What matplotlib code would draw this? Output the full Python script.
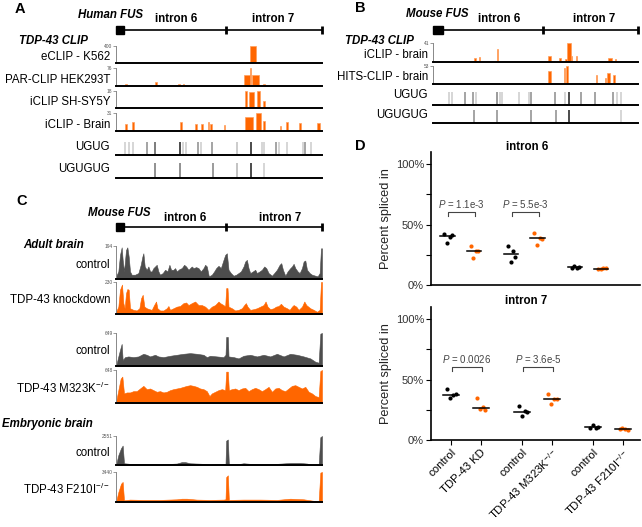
#!/usr/bin/env python3

import numpy as np
import matplotlib.pyplot as plt

W, H = 642, 527
ORANGE = '#ff6600'
GREY = '#4d4d4d'

plt.rcParams['font.family'] = ['Liberation Sans', 'DejaVu Sans']
plt.rcParams['mathtext.fontset'] = 'custom'
plt.rcParams['mathtext.rm'] = 'Liberation Sans'
plt.rcParams['mathtext.it'] = 'Liberation Sans:italic'

# ---------------- panel A: human FUS locus (arbitrary locus units)
A_LEN, A_EXON_END, A_SPLIT = 617, 24, 330

# CLIP peaks: (start, end, reads)
ECLIP_K562 = [(390, 400, 20), (400, 420, 400), (420, 437, 15)]
PARCLIP_HEK = [(27, 32, 8), (117, 122, 15), (187, 192, 10), (200, 204, 10),
               (384, 400, 46), (400, 404, 76), (407, 429, 46), (440, 445, 8)]
ICLIP_SHSY5Y = [(387, 393, 18), (398, 414, 17), (422, 430, 18), (440, 445, 7)]
ICLIP_BRAIN_H = [(27, 32, 12), (48, 54, 16), (192, 197, 15), (237, 242, 12),
                 (255, 260, 12), (275, 280, 15), (282, 287, 12), (322, 327, 10),
                 (387, 410, 24), (419, 434, 31), (440, 445, 17), (490, 495, 9),
                 (510, 515, 16), (549, 554, 13), (602, 610, 13)]
A_MAX = [400, 76, 18, 31]
A_LABELS = ['eCLIP - K562', 'PAR-CLIP HEK293T', 'iCLIP SH-SY5Y', 'iCLIP - Brain']

# motif sites: position and grey level
A_UGUG = [27, 40, 50, 92, 117, 192, 200, 210, 247, 254, 287, 362, 404, 437, 442,
          480, 487, 512, 560, 567, 584]
A_UGUG_SHADE = [.8, .8, .8, .55, .35, .1, .8, .8, .55, .8, .55, .75, .1, .8, .8,
                .55, .8, .8, .8, .55, .8]
A_UGUGUG = [117, 192, 292, 362, 404, 442]
A_UGUGUG_SHADE = [.45, .45, .5, .7, .1, .8]

# ---------------- panel B: mouse FUS locus
B_LEN, B_EXON_END, B_SPLIT = 615, 30, 330
ICLIP_BRAIN_M = [(123, 128, 9), (137, 142, 11), (191, 196, 27), (345, 353, 14),
                 (378, 383, 8), (395, 402, 6), (402, 413, 41), (413, 418, 14),
                 (428, 433, 12), (526, 538, 9), (545, 550, 6)]
HITS_BRAIN = [(345, 353, 37), (393, 397, 48), (400, 406, 53), (488, 493, 27),
              (515, 520, 19), (522, 530, 32), (540, 545, 26)]
B_MAX = [41, 53]
B_LABELS = ['iCLIP - brain', 'HITS-CLIP - brain']
B_UGUG = [47, 57, 97, 120, 128, 192, 200, 207, 257, 287, 295, 365, 395, 407, 445,
          485, 540, 553, 565]
B_UGUG_SHADE = [.8, .8, .55, .55, .8, .5, .8, .8, .8, .8, .55, .55, .8, .1, .55,
                .55, .55, .8, .8]
B_UGUGUG = [122, 192, 293, 368, 407, 565]
B_UGUGUG_SHADE = [.55, .55, .55, .55, .1, .8]

# ---------------- panel C: RNA-seq coverage, (position, % of track max)
KD_CTRL = [(0, 8), (7, 23), (12, 73), (17, 96), (20, 58), (24, 23), (30, 88), (34, 96),
           (38, 68), (42, 23), (47, 13), (57, 13), (67, 18), (74, 43), (79, 68), (82, 78),
           (86, 38), (92, 28), (97, 38), (102, 23), (107, 23), (112, 33), (117, 38),
           (122, 43), (127, 23), (132, 13), (140, 18), (147, 28), (154, 23), (160, 43),
           (165, 28), (172, 28), (177, 33), (182, 23), (190, 30), (197, 33), (204, 43),
           (210, 38), (217, 28), (222, 33), (227, 38), (232, 33), (240, 36), (247, 33),
           (254, 23), (262, 33), (267, 43), (272, 38), (278, 8), (287, 13), (294, 23),
           (300, 33), (307, 40), (314, 33), (322, 58), (327, 73), (332, 78), (337, 28),
           (344, 18), (352, 10), (360, 13), (367, 18), (374, 23), (382, 38), (387, 53),
           (392, 58), (397, 33), (402, 18), (410, 23), (417, 28), (422, 18), (430, 23),
           (437, 28), (444, 38), (450, 33), (457, 18), (467, 10), (474, 18), (482, 28),
           (490, 43), (495, 48), (500, 28), (507, 10), (514, 23), (522, 33), (527, 38),
           (532, 46), (537, 33), (544, 23), (550, 18), (557, 33), (562, 53), (567, 56),
           (572, 28), (580, 18), (587, 13), (597, 10), (604, 8), (610, 18), (614, 93),
           (617, 93)]
KD = [(0, 7), (7, 23), (12, 76), (18, 92), (22, 34), (26, 18), (30, 65), (34, 78), (38, 76),
      (42, 18), (52, 13), (62, 11), (70, 18), (75, 49), (80, 60), (85, 23), (92, 18),
      (100, 15), (107, 13), (114, 28), (120, 39), (124, 18), (132, 11), (142, 11),
      (152, 18), (157, 25), (162, 13), (172, 18), (182, 23), (192, 25), (202, 34),
      (210, 36), (217, 28), (227, 34), (237, 39), (247, 28), (257, 28), (267, 23),
      (277, 13), (287, 23), (297, 28), (307, 39), (312, 34), (322, 28), (327, 23),
      (330, 81), (334, 81), (337, 23), (347, 18), (357, 11), (367, 13), (377, 18),
      (384, 28), (389, 34), (394, 23), (402, 13), (412, 15), (422, 18), (432, 23),
      (442, 28), (448, 39), (454, 23), (462, 15), (472, 18), (479, 23), (487, 25),
      (494, 32), (502, 23), (512, 18), (520, 13), (527, 23), (532, 28), (540, 23),
      (547, 13), (557, 23), (564, 39), (570, 28), (582, 18), (592, 13), (602, 7),
      (610, 13), (614, 100), (617, 100)]
M323K_CTRL = [(0, 0), (7, 29), (12, 49), (17, 67), (20, 18), (27, 27), (37, 29), (52, 27),
              (67, 29), (82, 37), (92, 34), (102, 29), (117, 34), (127, 29), (142, 27),
              (162, 31), (182, 34), (202, 37), (222, 39), (242, 37), (262, 34), (272, 27),
              (282, 31), (302, 29), (322, 27), (328, 34), (330, 88), (335, 88), (337, 29),
              (352, 27), (367, 23), (382, 31), (402, 34), (422, 29), (442, 34), (462, 29),
              (482, 37), (502, 29), (522, 37), (542, 34), (562, 29), (582, 23), (597, 13),
              (607, 10), (612, 98), (617, 100)]
M323K = [(0, 3), (7, 39), (14, 74), (19, 80), (24, 29), (32, 32), (42, 32), (52, 36),
         (62, 36), (72, 44), (82, 52), (92, 42), (102, 44), (112, 39), (122, 34), (132, 36),
         (142, 32), (152, 34), (162, 39), (172, 42), (182, 44), (192, 46), (202, 49),
         (212, 52), (222, 54), (232, 52), (242, 49), (252, 44), (262, 42), (272, 36),
         (280, 21), (287, 29), (297, 34), (307, 39), (317, 42), (327, 39), (330, 95),
         (335, 95), (338, 39), (347, 42), (357, 44), (367, 39), (377, 44), (387, 46),
         (397, 36), (407, 42), (417, 46), (427, 42), (437, 36), (447, 42), (457, 49),
         (467, 34), (477, 44), (487, 46), (497, 39), (507, 36), (517, 44), (527, 52),
         (537, 54), (547, 49), (557, 44), (567, 49), (577, 34), (587, 29), (597, 21),
         (607, 18), (612, 97), (617, 100)]
EMB_CTRL = [(0, 0), (7, 34), (15, 58), (20, 67), (24, 6), (42, 4), (82, 4), (132, 2),
            (182, 5), (197, 10), (207, 10), (222, 6), (262, 4), (282, 1), (322, 4),
            (328, 4), (330, 84), (335, 88), (338, 2), (362, 2), (382, 6), (402, 4),
            (442, 2), (482, 4), (522, 7), (552, 7), (572, 5), (592, 0), (607, 0),
            (612, 96), (617, 100)]
F210I = [(0, 0), (7, 33), (15, 61), (20, 67), (24, 6), (42, 8), (82, 7), (132, 7),
         (182, 9), (197, 11), (212, 11), (242, 8), (282, 7), (322, 8), (328, 9),
         (330, 83), (335, 89), (338, 7), (382, 8), (432, 8), (482, 7), (522, 11),
         (562, 9), (592, 4), (607, 2), (612, 98), (617, 100)]
C_TRACKS = [KD_CTRL, KD, M323K_CTRL, M323K, EMB_CTRL, F210I]
C_MAX = [194, 230, 649, 648, 2551, 3440]
C_LABELS = ['control', 'TDP-43 knockdown', 'control', 'TDP-43 M323K$^{-/-}$',
            'control', 'TDP-43 F210I$^{-/-}$']

# ---------------- panel D: percent spliced in
D_GROUPS = ['control', 'TDP-43 KD', 'control', 'TDP-43 M323K$^{-/-}$',
            'control', 'TDP-43 F210I$^{-/-}$']
PSI_INTRON6 = [[42, 40, 41, 35], [32, 28, 28, 22], [32, 28, 23, 19],
               [43, 39, 38, 33], [14, 14, 15, 16], [13, 14, 14, 13]]
PSI_INTRON7 = [[42, 37, 38, 35], [35, 27, 25, 26], [28, 24, 23, 20],
               [38, 34, 34, 30], [10, 10, 11, 12], [9, 9, 8, 10]]
P_INTRON6 = ['1.1e-3', '5.5e-3']
P_INTRON7 = ['0.0026', '3.6e-5']


fig = plt.figure(figsize=(W / 100, H / 100), dpi=100)


def add_ax(x0, y0, x1, y1):
    # pixel box (top-left origin) -> figure axes
    return fig.add_axes([x0 / W, 1 - y1 / H, (x1 - x0) / W, (y1 - y0) / H])


def ftext(x, y, s, **kw):
    kw.setdefault('va', 'center')
    fig.text(x / W, 1 - y / H, s, **kw)


def gene_model(x0, x1, y, length, exon_end, split):
    ax = add_ax(x0, y - 8, x1, y + 8)
    ax.set_xlim(0, length)
    ax.set_ylim(-1, 1)
    ax.axis('off')
    ax.plot([exon_end, length], [0, 0], color='k', lw=1.2)
    ax.add_patch(plt.Rectangle((0, -0.5), exon_end, 1.0, color='k', clip_on=False))
    ax.vlines([split, length], -0.45, 0.45, color='k', lw=2, clip_on=False)


def track_axes(box, length, top, toplabel):
    ax = add_ax(*box)
    ax.set_xlim(0, length)
    ax.set_ylim(0, top)
    for s in ['top', 'right']:
        ax.spines[s].set_visible(False)
    ax.spines['left'].set_color('#888888')
    ax.spines['left'].set_linewidth(0.7)
    ax.spines['bottom'].set_linewidth(1.4)
    ax.set_xticks([])
    ax.set_yticks([top])
    ax.set_yticklabels([toplabel])
    ax.tick_params(axis='y', length=2, width=0.6, color='#888888', labelsize=3.5,
                   labelcolor='#555555', pad=0.5)
    return ax


def clip_track(box, length, bars, top):
    ax = track_axes(box, length, top, str(top))
    for s, e, v in bars:
        ax.bar(s, v, width=e - s, align='edge', color=ORANGE,
               edgecolor='#ff9f5c', lw=0.5)
    return ax


def motif_track(box, length, pos, shade):
    ax = add_ax(*box)
    ax.set_xlim(0, length)
    ax.set_ylim(0, 1)
    for s in ['top', 'right', 'left']:
        ax.spines[s].set_visible(False)
    ax.spines['bottom'].set_linewidth(1.4)
    ax.set_xticks([])
    ax.set_yticks([])
    ax.vlines(pos, 0, 1, colors=[str(g) for g in shade], lw=1.1)


def coverage_track(box, length, data, top, color):
    ax = track_axes(box, length, 100, str(top))
    x = [p for p, v in data]
    y = [v for p, v in data]
    ax.fill_between(x, 0, y, color=color, lw=0.4, edgecolor=color)


LBL = dict(fontsize=8.3, ha='right')
HEAD = dict(fontsize=8.3, fontweight='bold')
HEAD_IT = dict(fontsize=8.3, fontweight='bold', style='italic')

# ---------------- A
ftext(20, 9, 'A', fontsize=10.5, fontweight='bold', ha='center')
ftext(143, 14.5, 'Human FUS', ha='right', **HEAD_IT)
ftext(176, 19, 'intron 6', ha='center', **HEAD)
ftext(273, 19, 'intron 7', ha='center', **HEAD)
gene_model(116, 322, 30, A_LEN, A_EXON_END, A_SPLIT)
ftext(19, 41, 'TDP-43 CLIP', ha='left', **HEAD_IT)

a_boxes = [(116, 46, 322, 63), (116, 68, 322, 86), (116, 91, 322, 108), (116, 113, 322, 131)]
for box, bars, top, lab in zip(a_boxes, [ECLIP_K562, PARCLIP_HEK, ICLIP_SHSY5Y, ICLIP_BRAIN_H],
                               A_MAX, A_LABELS):
    clip_track(box, A_LEN, bars, top)
    ftext(110, box[3] - 6, lab, **LBL)

motif_track((116, 142, 322, 155), A_LEN, A_UGUG, A_UGUG_SHADE)
ftext(110, 147, 'UGUG', **LBL)
motif_track((116, 163, 322, 178), A_LEN, A_UGUGUG, A_UGUGUG_SHADE)
ftext(110, 168.5, 'UGUGUG', **LBL)

# ---------------- B
ftext(360, 8, 'B', fontsize=10.5, fontweight='bold', ha='center')
ftext(468, 14, 'Mouse FUS', ha='right', **HEAD_IT)
ftext(499, 19, 'intron 6', ha='center', **HEAD)
ftext(594, 19, 'intron 7', ha='center', **HEAD)
gene_model(433, 638, 30, B_LEN, B_EXON_END, B_SPLIT)
ftext(345, 41, 'TDP-43 CLIP', ha='left', **HEAD_IT)

b_boxes = [(433, 43, 638, 62), (433, 66, 638, 84)]
for box, bars, top, lab in zip(b_boxes, [ICLIP_BRAIN_M, HITS_BRAIN], B_MAX, B_LABELS):
    clip_track(box, B_LEN, bars, top)
    ftext(428, box[3] - 6.5, lab, **LBL)

motif_track((433, 92, 638, 105), B_LEN, B_UGUG, B_UGUG_SHADE)
ftext(428, 95.5, 'UGUG', **LBL)
motif_track((433, 110, 638, 123), B_LEN, B_UGUGUG, B_UGUGUG_SHADE)
ftext(428, 115, 'UGUGUG', **LBL)

# ---------------- C
ftext(22, 201, 'C', fontsize=10.5, fontweight='bold', ha='center')
ftext(150, 212.5, 'Mouse FUS', ha='right', **HEAD_IT)
ftext(185, 218, 'intron 6', ha='center', **HEAD)
ftext(280, 218, 'intron 7', ha='center', **HEAD)
gene_model(116, 322, 227, A_LEN, A_EXON_END, A_SPLIT)
ftext(23, 245, 'Adult brain', ha='left', **HEAD_IT)
ftext(2, 424, 'Embryonic brain', ha='left', **HEAD_IT)

c_boxes = [(116, 246, 322, 279), (116, 282, 322, 314), (116, 333, 322, 366),
           (116, 370, 322, 403), (116, 436, 322, 465), (116, 472, 322, 502)]
c_colors = [GREY, ORANGE, GREY, ORANGE, GREY, ORANGE]
for box, data, top, lab, col in zip(c_boxes, C_TRACKS, C_MAX, C_LABELS, c_colors):
    coverage_track(box, A_LEN, data, top, col)
    ftext(110, (box[1] + box[3]) / 2 + 2, lab, **LBL)


# ---------------- D
def psi_panel(box, values, pvals, xlim, show_labels):
    ax = add_ax(*box)
    xs = [pair * 2.4 + k for pair in range(3) for k in range(2)]
    offs = [-0.12, 0.08, 0.16, -0.02]
    for i, (x, vals) in enumerate(zip(xs, values)):
        col = 'k' if i % 2 == 0 else ORANGE
        ax.plot([x + o for o in offs], vals, 'o', color=col, ms=3.0, mew=0)
        med = np.median(vals)
        ax.plot([x - 0.27, x + 0.27], [med, med], color='k', lw=1.1)
    for j, p in enumerate(pvals):
        a, b = xs[2 * j] + 0.03, xs[2 * j + 1] + 0.05
        ax.plot([a, a, b, b], [57, 60, 60, 57], color='#444444', lw=0.8)
        ax.text((a + b) / 2, 62, r'$P$ = ' + p, ha='center', va='bottom',
                fontsize=7, color='#444444')
    ax.set_xlim(*xlim)
    ax.set_ylim(0, 110)
    ax.set_yticks([0, 25, 50, 75, 100])
    ax.set_yticklabels(['0%', '', '50%', '', '100%'])
    for s in ['top', 'right']:
        ax.spines[s].set_visible(False)
    for s in ['left', 'bottom']:
        ax.spines[s].set_linewidth(1.2)
    ax.tick_params(axis='y', length=3.5, width=0.8, labelsize=8, pad=1.5,
                   labelcolor='#333333')
    ax.set_ylabel('Percent spliced in', fontsize=9.2, labelpad=3, color='#222222')
    if show_labels:
        ax.set_xticks(xs)
        ax.set_xticklabels(D_GROUPS, rotation=45, ha='right', rotation_mode='anchor',
                           fontsize=8.2)
        ax.tick_params(axis='x', length=3.5, width=0.8, pad=1.5)
    else:
        ax.set_xticks([])
    return ax


ftext(360, 145.5, 'D', fontsize=10.5, fontweight='bold', ha='center')
ftext(527, 147, 'intron 6', ha='center', **HEAD)
psi_panel((431, 152, 640, 285), PSI_INTRON6, P_INTRON6, (-0.62, 7.26), False)
ftext(526, 301.5, 'intron 7', ha='center', **HEAD)
psi_panel((431, 307, 640, 440), PSI_INTRON7, P_INTRON7, (-0.67, 6.37), True)

fig.savefig('out.png', dpi=100)
